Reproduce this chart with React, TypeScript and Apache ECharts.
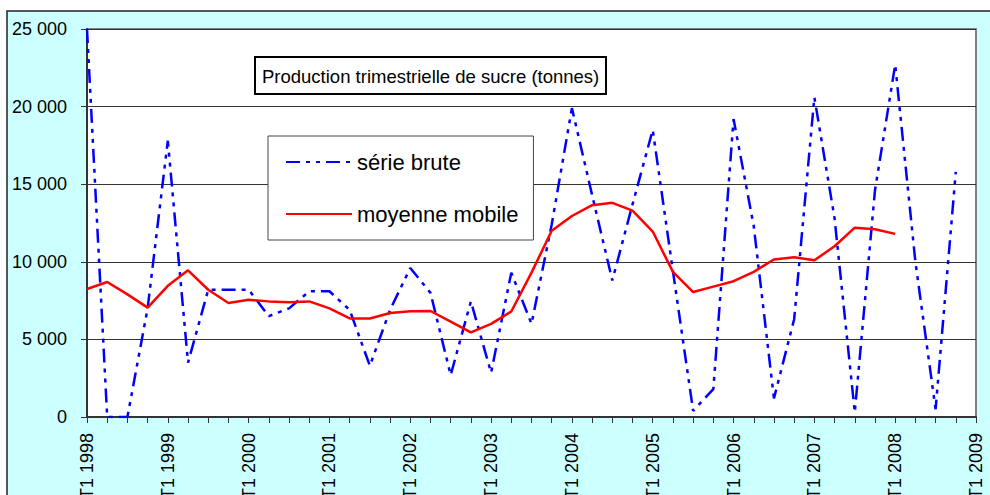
import React, { useEffect, useRef } from "react";
import * as echarts from "echarts";

const categories = [
  "T1 1998", "T2 1998", "T3 1998", "T4 1998",
  "T1 1999", "T2 1999", "T3 1999", "T4 1999",
  "T1 2000", "T2 2000", "T3 2000", "T4 2000",
  "T1 2001", "T2 2001", "T3 2001", "T4 2001",
  "T1 2002", "T2 2002", "T3 2002", "T4 2002",
  "T1 2003", "T2 2003", "T3 2003", "T4 2003",
  "T1 2004", "T2 2004", "T3 2004", "T4 2004",
  "T1 2005", "T2 2005", "T3 2005", "T4 2005",
  "T1 2006", "T2 2006", "T3 2006", "T4 2006",
  "T1 2007", "T2 2007", "T3 2007", "T4 2007",
  "T1 2008", "T2 2008", "T3 2008", "T4 2008",
  "T1 2009",
];

const serieBrute = [
  25000, 0, 0, 7000, 17800, 3500, 8200, 8200,
  8200, 6500, 7000, 8100, 8100, 6900, 3300, 6900,
  9600, 8000, 2700, 7450, 2850, 9300, 6000, 12400,
  19900, 14300, 8800, 13700, 18500, 9400, 400, 1800,
  19200, 12300, 1200, 6300, 20600, 12800, 300, 14600,
  22700, 10000, 500, 15800,
];

const moyenneMobile = [
  8250, 8700, 7900, 7050, 8450, 9450, 8200, 7350,
  7550, 7450, 7400, 7450, 7000, 6350, 6350, 6700,
  6820, 6830, 6150, 5450, 6000, 6800, 9300, 12000,
  12950, 13650, 13800, 13300, 11950, 9350, 8050, 8400,
  8750, 9350, 10150, 10300, 10100, 11000, 12200, 12100,
  11800,
];

const yTickValues = [0, 5000, 10000, 15000, 20000, 25000];
const yTickLabels = ["0", "5 000", "10 000", "15 000", "20 000", "25 000"];

const FONT = "'Liberation Sans', Arial, sans-serif";

export default function App() {
  const ref = useRef<HTMLDivElement>(null);

  useEffect(() => {
    if (!ref.current) return;
    const chart = echarts.init(ref.current, null, { renderer: "svg" });
    chart.setOption({
      animation: false,
      backgroundColor: "#ffffff",
      graphic: [
        {
          type: "rect",
          z: -10,
          silent: true,
          shape: { x: 7, y: 11, width: 1000, height: 500 },
          style: { fill: "#CCFFFF", stroke: "#222222", lineWidth: 1.5 },
        },
      ],
      title: {
        text: "Production trimestrielle de sucre (tonnes)",
        left: 255,
        top: 57,
        padding: [9, 7, 8, 7],
        borderWidth: 2,
        borderColor: "#000000",
        backgroundColor: "#ffffff",
        textStyle: {
          fontFamily: FONT,
          fontSize: 18.5,
          fontWeight: "normal",
          color: "#000000",
          lineHeight: 20,
        },
      },
      legend: {
        orient: "vertical",
        left: 268,
        top: 136,
        padding: [15, 15, 15, 17],
        itemWidth: 66,
        itemHeight: 20,
        itemGap: 30,
        backgroundColor: "#ffffff",
        borderColor: "#444444",
        borderWidth: 1,
        itemStyle: { opacity: 0 },
        textStyle: {
          fontFamily: FONT,
          fontSize: 22,
          color: "#000000",
          lineHeight: 20,
        },
        data: ["série brute", "moyenne mobile"],
      },
      grid: {
        left: 87,
        right: 14,
        top: 29,
        bottom: 78,
        outerBoundsMode: "none",
        containLabel: false,
        show: true,
        backgroundColor: "#ffffff",
        borderColor: "#808080",
        borderWidth: 2,
      },
      xAxis: {
        type: "category",
        data: categories,
        boundaryGap: false,
        axisLine: { lineStyle: { color: "#333333", width: 2 } },
        axisTick: { interval: 0, length: 6, lineStyle: { color: "#333333", width: 1 } },
        axisLabel: {
          interval: 3,
          rotate: 90,
          margin: 16,
          fontFamily: FONT,
          fontSize: 18,
          color: "#000000",
        },
        splitLine: { show: false },
      },
      yAxis: {
        type: "value",
        min: 0,
        max: 25000,
        interval: 5000,
        axisLine: { show: true, lineStyle: { color: "#333333", width: 2 } },
        axisTick: { show: true, length: 6, lineStyle: { color: "#333333", width: 1 } },
        axisLabel: {
          margin: 20,
          fontFamily: FONT,
          fontSize: 18,
          color: "#000000",
          formatter: (v: number) => {
            const idx = yTickValues.indexOf(v);
            return idx >= 0 ? yTickLabels[idx] : String(v);
          },
        },
        splitLine: { show: true, lineStyle: { color: "#333333", width: 1 } },
      },
      series: [
        {
          name: "série brute",
          type: "line",
          data: serieBrute,
          symbol: "none",
          lineStyle: { color: "#0000FF", width: 2.5, type: [14, 6, 4, 6, 4, 6] },
          itemStyle: { color: "#0000FF" },
          z: 3,
        },
        {
          name: "moyenne mobile",
          type: "line",
          data: moyenneMobile,
          symbol: "none",
          lineStyle: { color: "#FF0000", width: 2.5, type: "solid" },
          itemStyle: { color: "#FF0000" },
          z: 4,
        },
      ],
    });
    return () => chart.dispose();
  }, []);

  return (
    <div
      ref={ref}
      style={{ position: "absolute", left: 0, top: 0, width: 990, height: 495 }}
    />
  );
}
